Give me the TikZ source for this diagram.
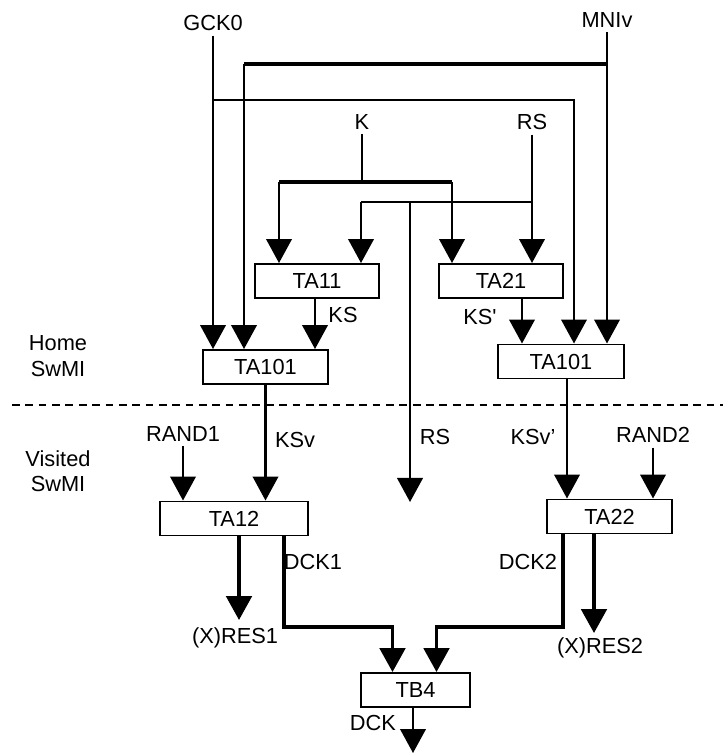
\documentclass[tikz,border=0pt]{standalone}
\usepackage{fontspec}
\setmainfont{Liberation Sans}
\usetikzlibrary{arrows.meta,calc}

\begin{document}
\begin{tikzpicture}[x=0.025cm, y=-0.025cm,
  every node/.style={font=\fontsize{15.5}{18}\selectfont},
  blk/.style={draw, line width=1.4pt, minimum height=0.85cm, inner sep=0pt},
  sig/.style={line width=1.45pt},
  bus/.style={line width=2.4pt},
  tip/.style={-{Triangle[length=0.6cm,width=0.64cm]}}]

\useasboundingbox (0,0) rectangle (723,754);

% === BLOCKS ===
\node[blk, minimum width=3.1cm]   (ta11)   at (317,281)   {TA11};
\node[blk, minimum width=3.1cm]   (ta21)   at (501,281)   {TA21};
\node[blk, minimum width=3.125cm] (ta101a) at (265.5,367) {TA101};
\node[blk, minimum width=3.15cm]  (ta101b) at (561,361.5) {TA101};
\node[blk, minimum width=3.7cm]   (ta12)   at (234,518.5) {TA12};
\node[blk, minimum width=3.125cm] (ta22)   at (609.5,516.5) {TA22};
\node[blk, minimum width=2.725cm] (tb4)    at (415.5,690) {TB4};

% === INPUTS / OUTPUTS ===
\node (gck0)  at (213,23)  {GCK0};
\node (mniv)  at (607,20)  {MNIv};
\node (k)     at (362,122) {K};
\node (rs)    at (532,122) {RS};
\node (rand1) at (183,434) {RAND1};
\node (rand2) at (653,435) {RAND2};
\node (res1)  at (235,638) {(X)RES1};
\node (res2)  at (600,648) {(X)RES2};

% === SIGNAL LABELS ===
\node (ks)    at (343,315) {KS};
\node (ksp)   at (480,317) {KS\textquotesingle};
\node (ksv)   at (295,440) {KSv};
\node (ksvp)  at (533,437) {KSv’};
\node (rslbl) at (435,437) {RS};
\node (dck1)  at (313,562) {DCK1};
\node (dck2)  at (528,562) {DCK2};
\node (dck)   at (373,723) {DCK};

\node[align=center] (home)    at (58,356) {Home\\SwMI};
\node[align=center] (visited) at (58,471) {Visited\\SwMI};

% junctions and free ends
\coordinate (mnibar) at (244,64);
\coordinate (gckbar) at (574,100);
\coordinate (kl) at (279,182);
\coordinate (kr) at (452,182);
\coordinate (rsl) at (361,202);
\coordinate (rsm) at (410,202);
\coordinate (rsend) at (410,502);
\coordinate (res1end) at (239,620);
\coordinate (res2end) at (594,633);
\coordinate (dck1c) at (284,627);
\coordinate (dck2c) at (563,627);
\coordinate (dckend) at (413,753);

% GCK0
\draw[sig,tip] (gck0.south) -- (gck0.south |- ta101a.north);
\draw[sig,tip] (gck0.south |- gckbar) -- (gckbar) -- (gckbar |- ta101b.north);

% MNIv
\draw[sig,tip] (mniv.south) -- (mniv.south |- ta101b.north);
\draw[bus] (mniv.south |- mnibar) -- (mnibar);
\draw[sig,tip] (mnibar) -- (mnibar |- ta101a.north);

% K
\draw[sig] (k.south) -- (k.south |- kl);
\draw[bus] (kl) -- (kr);
\draw[sig,tip] (kl) -- (kl |- ta11.north);
\draw[sig,tip] (kr) -- (kr |- ta21.north);

% RS
\draw[sig,tip] (rs.south) -- (rs.south |- ta21.north);
\draw[sig] (rs.south |- rsl) -- (rsl);
\draw[sig,tip] (rsl) -- (rsl |- ta11.north);
\draw[sig,tip] (rsm) -- (rsend);

% KS, KS'
\draw[sig,tip] ($(ta11.south)+(-2,0)$) coordinate (kstop) -- (kstop |- ta101a.north);
\draw[sig,tip] ($(ta21.south)+(21,0)$) coordinate (ksptop) -- (ksptop |- ta101b.north);

% KSv, KSv'
\draw[sig,tip] (ta101a.south) -- (ta101a.south |- ta12.north);
\draw[sig,tip] ($(ta101b.south)+(6,0)$) coordinate (ksvtop) -- (ksvtop |- ta22.north);

% RAND
\draw[sig,tip] (rand1.south) -- (rand1.south |- ta12.north);
\draw[sig,tip] (rand2.south) -- (rand2.south |- ta22.north);

% visited outputs
\draw[bus,tip] (ta12.south -| res1end) -- (res1end);
\draw[bus,tip] (ta22.south -| res2end) -- (res2end);
\draw[bus,tip] (ta12.south -| dck1c) -- (dck1c) -| ($(tb4.north)+(-23,0)$);
\draw[bus,tip] (ta22.south -| dck2c) -- (dck2c) -| ($(tb4.north)+(21,0)$);
\draw[sig,tip] (tb4.south -| dckend) -- (dckend);

% Home / Visited border
\draw[sig, dash pattern=on 5.5pt off 4pt] (12,405) -- (723,405);

\end{tikzpicture}
\end{document}
